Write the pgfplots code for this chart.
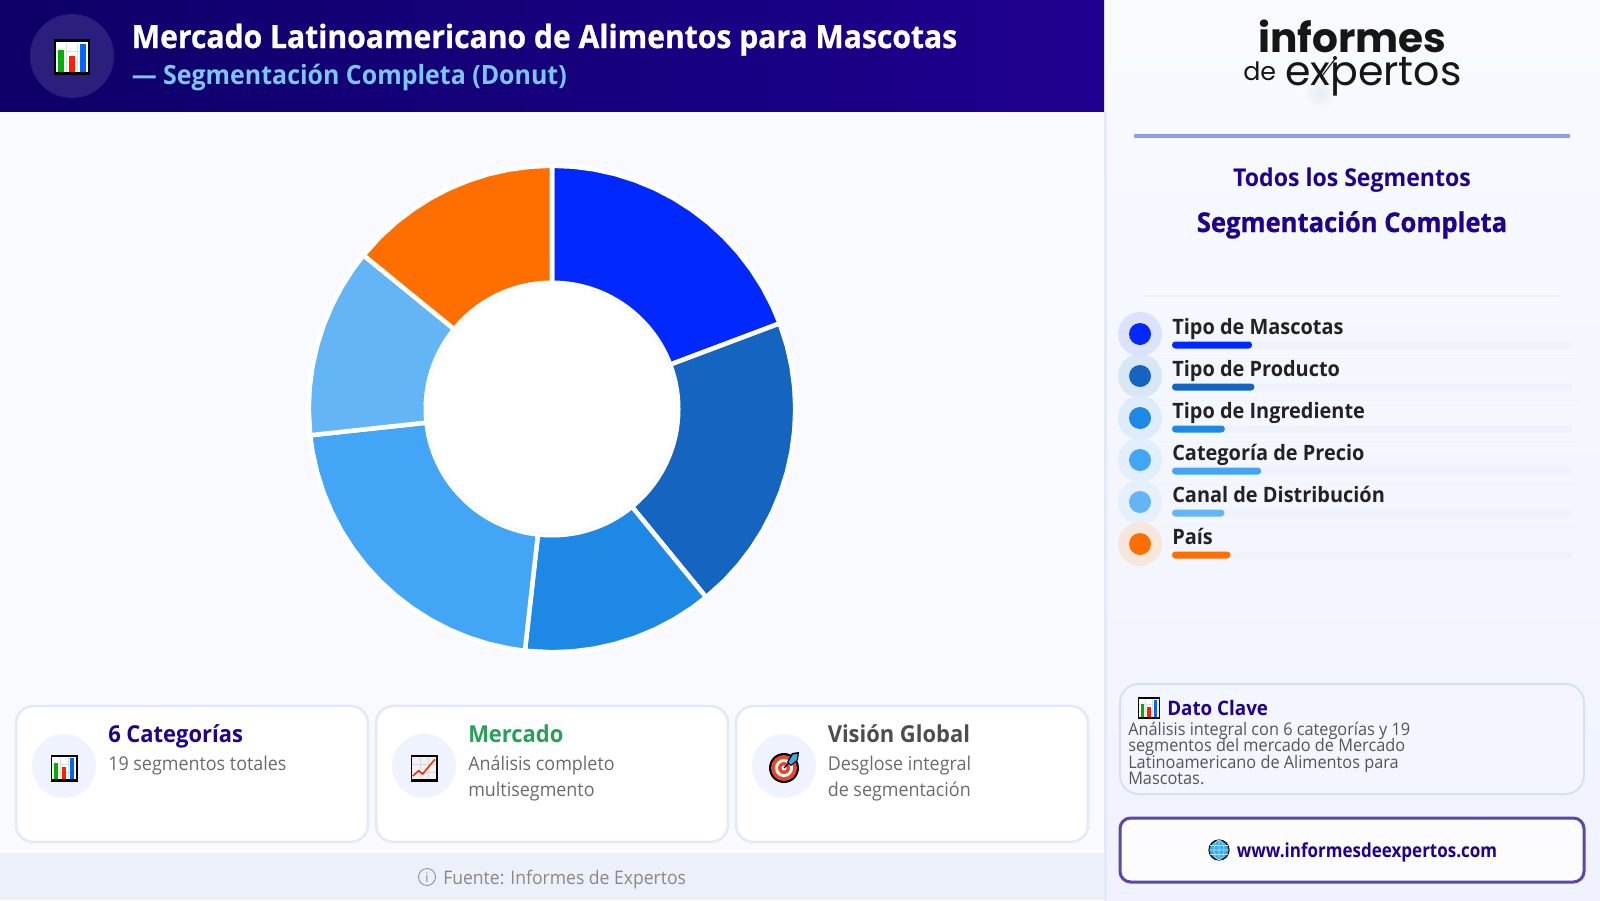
\documentclass[border=0pt]{standalone}
\usepackage{pgfplots}
\pgfplotsset{compat=1.18}
\usepgfplotslibrary{polar}
\usepackage{fontspec}
\newfontfamily\seg[FakeStretch=0.94]{Open Sans}
\newfontfamily\segh[FakeStretch=0.94,BoldFeatures={FakeBold=0.8}]{Open Sans}
\newfontfamily\segn[FakeStretch=0.88]{Open Sans}
\newfontfamily\logofont{Poppins}
\definecolor{hdL}{HTML}{0D0068}
\definecolor{hdR}{HTML}{1F008F}
\definecolor{navy}{HTML}{1F0090}
\definecolor{sky}{HTML}{7CC6FA}
\definecolor{bgm}{HTML}{F8FAFF}
\definecolor{panT}{HTML}{F8FAFF}
\definecolor{panB}{HTML}{F0F3FF}
\definecolor{foot}{HTML}{ECF0F9}
\definecolor{edge}{HTML}{E3E9F8}
\definecolor{cA}{HTML}{0028FF}
\definecolor{cB}{HTML}{1565C0}
\definecolor{cC}{HTML}{1E88E5}
\definecolor{cD}{HTML}{42A5F5}
\definecolor{cE}{HTML}{64B5F6}
\definecolor{cF}{HTML}{FF6F00}
\definecolor{track}{HTML}{F0F2FA}
\definecolor{sepl}{HTML}{F1F3FA}
\definecolor{ink}{HTML}{222222}
\definecolor{subt}{HTML}{6B6B6B}
\definecolor{grn}{HTML}{27A05A}
\definecolor{gry}{HTML}{4D4D4D}
\definecolor{halo}{HTML}{EEF3FD}
\definecolor{purp}{HTML}{5B46AD}
\definecolor{bodyt}{HTML}{555555}
\definecolor{hic}{HTML}{2B1F7D}
\definecolor{ringc}{HTML}{F5F7FD}
\definecolor{tred}{HTML}{E8452C}
\definecolor{tblue}{HTML}{39AEEA}
\definecolor{fg}{HTML}{888888}
\definecolor{shad}{HTML}{E9EBF2}
\definecolor{lg}{HTML}{161616}
\definecolor{rule}{HTML}{8C9CF2}
\definecolor{thinl}{HTML}{EDF0F8}
\definecolor{hA}{HTML}{DDE2FC}
\definecolor{hB}{HTML}{D9E6F3}
\definecolor{hC}{HTML}{DDEBFA}
\definecolor{hD}{HTML}{E1EFFC}
\definecolor{hE}{HTML}{E5F0FC}
\definecolor{hF}{HTML}{F6E6DC}
\definecolor{dbord}{HTML}{D6E0F5}
\definecolor{dfill}{HTML}{F4F6FF}
\definecolor{ufill}{HTML}{FCFCFF}
\newcommand\tx[6][base west]{\node[anchor=#1,inner sep=0pt,text=#5] at (#2,#3) {\fontsize{#4}{#4}\selectfont\seg #6};}
\newcommand\iconbars[3]{\begin{scope}[shift={(#1,#2)},scale=#3]
 \fill[black] (-.5,-.5) rectangle (.5,.5);
 \fill[white] (-.44,-.42) rectangle (.44,.42);
 \draw[black!12,line width=.4pt] (-.15,-.42)--(-.15,.42) (.15,-.42)--(.15,.42) (-.44,-.15)--(.44,-.15) (-.44,.15)--(.44,.15);
 \fill[green!70!black] (-.38,.42) rectangle (-.22,-.2);
 \fill[red!75!orange] (-.08,.42) rectangle (.08,-.03);
 \fill[blue!60!cyan] (.22,.42) rectangle (.38,-.36);
\end{scope}}
\newcommand\iconline[3]{\begin{scope}[shift={(#1,#2)},scale=#3]
 \fill[black] (-.5,-.5) rectangle (.5,.5);
 \fill[white!95!black] (-.44,-.42) rectangle (.44,.42);
 \draw[black!15,line width=.4pt] (-.15,-.42)--(-.15,.42) (.15,-.42)--(.15,.42) (-.44,-.15)--(.44,-.15) (-.44,.15)--(.44,.15);
 \draw[red!75!orange,line width=1.1pt] (-.42,.3)--(-.2,.1)--(-.05,.22)--(.4,-.32);
\end{scope}}
\begin{document}
\begin{tikzpicture}[x=0.75pt,y=-0.75pt]
\useasboundingbox (0,0) rectangle (1600,900);
% backgrounds
\fill[bgm] (0,0) rectangle (1104,900);
\fill[foot] (0,853) rectangle (1104,900);
\shade[top color=panT,bottom color=panB] (1104,0) rectangle (1600,900);
\fill[edge] (1104,112) rectangle (1107,900);
\shade[left color=hdL,right color=hdR] (0,0) rectangle (1104,111.5);
% header
\fill[hic] (72,56) circle [radius=42];
\iconbars{72}{57}{36}
\tx{131.5}{48}{24pt}{white}{\segh\bfseries Mercado Latinoamericano de Alimentos para Mascotas}
\tx{131.5}{84}{19.9pt}{sky}{\bfseries — Segmentación Completa (Donut)}
% donut
\begin{polaraxis}[at={(414pt,-306.75pt)},anchor=center,scale only axis,width=367.5pt,height=367.5pt,
  hide axis,clip=false,xmin=-270,xmax=90,ymin=0,ymax=245]
\addplot[fill=cA,draw=white,line width=3.4pt,line join=round,mark=none] coordinates {(0,0) (90,243.3) (85,243.3) (80,243.3) (75,243.3) (70,243.3) (65,243.3) (60,243.3) (55,243.3) (50,243.3) (45,243.3) (40,243.3) (35,243.3) (30,243.3) (25,243.3) (20.6,243.3) (0,0)};
\addplot[fill=cB,draw=white,line width=3.4pt,line join=round,mark=none] coordinates {(0,0) (20.6,243.3) (15,243.3) (10,243.3) (5,243.3) (0,243.3) (-5,243.3) (-10,243.3) (-15,243.3) (-20,243.3) (-25,243.3) (-30,243.3) (-35,243.3) (-40,243.3) (-45,243.3) (-50.7,243.3) (0,0)};
\addplot[fill=cC,draw=white,line width=3.4pt,line join=round,mark=none] coordinates {(0,0) (-50.7,243.3) (-55,243.3) (-60,243.3) (-65,243.3) (-70,243.3) (-75,243.3) (-80,243.3) (-85,243.3) (-90,243.3) (-96.4,243.3) (0,0)};
\addplot[fill=cD,draw=white,line width=3.4pt,line join=round,mark=none] coordinates {(0,0) (-96.4,243.3) (-100,243.3) (-105,243.3) (-110,243.3) (-115,243.3) (-120,243.3) (-125,243.3) (-130,243.3) (-135,243.3) (-140,243.3) (-145,243.3) (-150,243.3) (-155,243.3) (-160,243.3) (-165,243.3) (-170,243.3) (-173.8,243.3) (0,0)};
\addplot[fill=cE,draw=white,line width=3.4pt,line join=round,mark=none] coordinates {(0,0) (-173.8,243.3) (-180,243.3) (-185,243.3) (-190,243.3) (-195,243.3) (-200,243.3) (-205,243.3) (-210,243.3) (-215,243.3) (-219.2,243.3) (0,0)};
\addplot[fill=cF,draw=white,line width=3.4pt,line join=round,mark=none] coordinates {(0,0) (-219.2,243.3) (-225,243.3) (-230,243.3) (-235,243.3) (-240,243.3) (-245,243.3) (-250,243.3) (-255,243.3) (-260,243.3) (-265,243.3) (-270,243.3) (0,0)};
\end{polaraxis}
\fill[white] (552,409) circle [radius=128.5];
\draw[ringc,line width=.75pt] (552,409) circle [radius=125];
% cards
\foreach \a/\b in {16/368,376/728,736/1088}{
 \draw[edge,line width=2pt,fill=white,rounded corners=13pt] (\a,706) rectangle (\b,842);}
\foreach \c in {64,424,784}{\fill[halo] (\c,766) circle [radius=32];}
\iconbars{64}{768}{27}
\iconline{424}{768}{27}
% target icon
\begin{scope}[shift={(784,768)}]
 \fill[black] (0,0) circle [radius=15];
 \fill[tred] (0,0) circle [radius=13];
 \fill[white] (0,0) circle [radius=9];
 \fill[tred] (0,0) circle [radius=6];
 \fill[white] (0,0) circle [radius=2.5];
 \draw[black,line width=1pt] (0,0)--(7,-7);
 \fill[black] (3,-6) -- (8,-15) -- (15,-16) -- (14,-8) -- (7,-2) -- cycle;
 \fill[tblue] (4.5,-6) -- (9,-13.5) -- (13.5,-14) -- (12.5,-8) -- (7,-3.5) -- cycle;
\end{scope}
\tx{108}{742}{17.5pt}{navy}{\bfseries 6 Categorías}
\tx{108}{770}{14.3pt}{subt}{19 segmentos totales}
\tx{468}{742}{17.5pt}{grn}{\bfseries Mercado}
\tx{468}{770}{14.3pt}{subt}{Análisis completo}
\tx{468}{796}{14.3pt}{subt}{multisegmento}
\tx{827.5}{742}{17.5pt}{gry}{\bfseries Visión Global}
\tx{827.5}{770}{14.3pt}{subt}{Desglose integral}
\tx{827.5}{796}{14.3pt}{subt}{de segmentación}
% footer
\draw[fg,line width=.6pt] (427,877) circle [radius=8.5];
\tx[base]{427}{882}{10pt}{fg}{i}
\tx{443}{884}{14pt}{fg}{Fuente: Informes de Expertos}
% logo
\shade[inner color=shad,outer color=panT] (1320,93) circle [radius=18];
\node[anchor=base west,inner sep=0pt,text=lg] at (1258,52) {\fontsize{30.5pt}{30.5pt}\selectfont\logofont\bfseries informes};
\node[anchor=base west,inner sep=0pt,text=lg] at (1243,80) {\fontsize{19pt}{19pt}\selectfont\logofont de};
\node[anchor=base west,inner sep=0pt,text=lg] at (1285,85) {\fontsize{30.8pt}{30.8pt}\selectfont\logofont expertos};
\draw[lg,line width=.8pt] (1322,76)--(1335,59);
\fill[lg] (1335,58) circle [radius=2];
\fill[rule] (1134,134) rectangle (1570,138);
\tx[base]{1352}{186}{18.4pt}{navy}{\bfseries Todos los Segmentos}
\tx[base]{1352}{232}{20.4pt}{navy}{\segh\bfseries Segmentación Completa}
\fill[thinl] (1144,295) rectangle (1560,297);
% legend rows
\foreach \yy in {357.7,399.7,441.7,483.7,525.7}{\fill[sepl] (1150,\yy) rectangle (1580,\yy+1.5);}
\foreach \yy/\cc/\hh in {334/cA/hA,376/cB/hB,418/cC/hC,460/cD/hD,502/cE/hE,544/cF/hF}{
 \fill[\hh] (1140,\yy) circle [radius=22];
 \fill[\cc] (1140,\yy) circle [radius=11];}
\tx{1172}{334}{15.9pt}{ink}{\bfseries Tipo de Mascotas}
\tx{1172}{376}{15.9pt}{ink}{\bfseries Tipo de Producto}
\tx{1172}{418}{15.9pt}{ink}{\bfseries Tipo de Ingrediente}
\tx{1172}{460}{15.9pt}{ink}{\bfseries Categoría de Precio}
\tx{1172}{502}{15.9pt}{ink}{\bfseries Canal de Distribución}
\tx{1172}{544}{15.9pt}{ink}{\bfseries País}
\begin{axis}[at={(879pt,-243pt)},anchor=north west,scale only axis,width=300pt,height=189pt,
  hide axis,clip=false,xmin=0,xmax=100,ymin=-0.5,ymax=5.5,y dir=reverse,
  xbar,bar width=5.25pt,bar shift=0pt]
\addplot[fill=track,draw=none,rounded corners=2.5pt] coordinates {(100,0) (100,1) (100,2) (100,3) (100,4) (100,5)};
\addplot[fill=cA,draw=none,rounded corners=2.5pt] coordinates {(20,0)};
\addplot[fill=cB,draw=none,rounded corners=2.5pt] coordinates {(20.6,1)};
\addplot[fill=cC,draw=none,rounded corners=2.5pt] coordinates {(13.2,2)};
\addplot[fill=cD,draw=none,rounded corners=2.5pt] coordinates {(22.3,3)};
\addplot[fill=cE,draw=none,rounded corners=2.5pt] coordinates {(13.1,4)};
\addplot[fill=cF,draw=none,rounded corners=2.5pt] coordinates {(14.6,5)};
\end{axis}
% dato clave
\draw[dbord,line width=1.5pt,fill=dfill,rounded corners=14pt] (1120,684) rectangle (1584,794);
\iconbars{1149}{708}{22}
\tx{1167}{715}{15pt}{navy}{\bfseries Dato Clave}
\tx{1128}{735}{13pt}{bodyt}{Análisis integral con 6 categorías y 19}
\tx{1128}{751}{13pt}{bodyt}{segmentos del mercado de Mercado}
\tx{1128}{768}{13pt}{bodyt}{Latinoamericano de Alimentos para}
\tx{1128}{784}{13pt}{bodyt}{Mascotas.}
% url
\draw[purp,line width=2.25pt,fill=ufill,rounded corners=8pt] (1120,818) rectangle (1584,882);
\begin{scope}[shift={(1219,850)}]
 \fill[tblue] (0,0) circle [radius=10];
 \draw[black,line width=.9pt] (0,0) circle [radius=10];
 \draw[white!70!cyan,line width=.4pt] (0,-10)--(0,10) (-10,0)--(10,0) (-9,-4.5)--(9,-4.5) (-9,4.5)--(9,4.5) (0,0) ellipse [x radius=5,y radius=10];
\end{scope}
\tx{1236.5}{857}{14.5pt}{navy}{\segn\bfseries www.informesdeexpertos.com}
\end{tikzpicture}
\end{document}
